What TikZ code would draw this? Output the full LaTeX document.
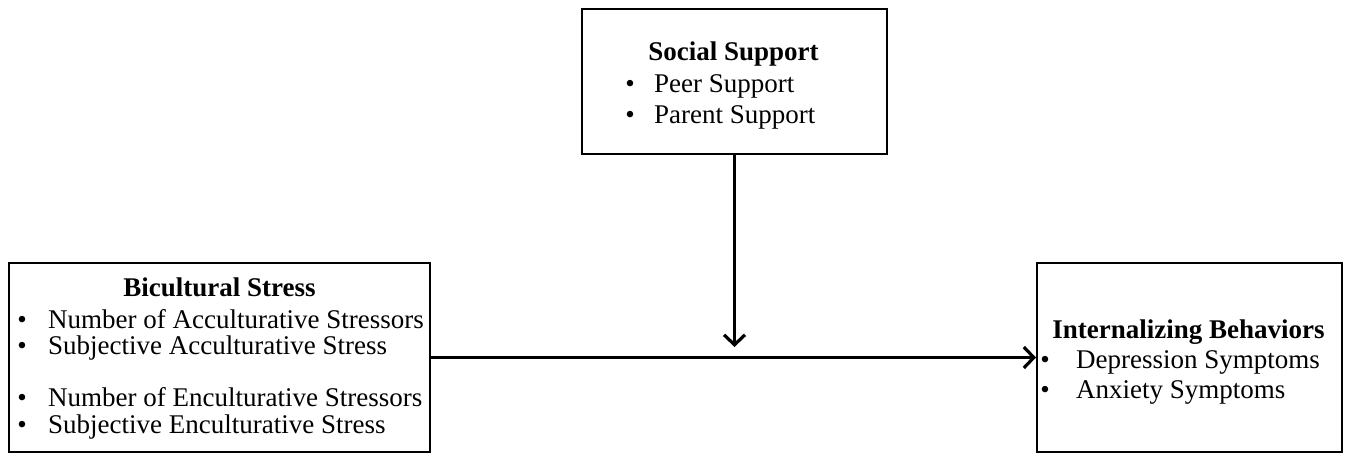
\documentclass[tikz,border=0pt]{standalone}
\usepackage{fontspec}
\setmainfont{Liberation Serif}
\usetikzlibrary{arrows.meta}
\begin{document}
\begin{tikzpicture}[x=1pt,y=-1pt,
  box/.style={draw=black,line width=2pt,rectangle,inner sep=0pt},
  txt/.style={anchor=base west,inner sep=0pt,font=\fontsize{27}{31}\selectfont},
  ttl/.style={anchor=base,inner sep=0pt,font=\fontsize{27}{31}\selectfont\bfseries},
  bul/.style={anchor=base,inner sep=0pt,font=\fontsize{27}{31}\selectfont},
  arr/.style={line width=3.2pt,-{Straight Barb[length=10pt,width=21pt]}}]
\useasboundingbox (0,0) rectangle (1346,454);
% boxes
\node[box,minimum width=421pt,minimum height=189pt] (bic) at (219.5,357.5) {};
\node[box,minimum width=305pt,minimum height=145pt] (ss) at (734.5,81.5) {};
\node[box,minimum width=305pt,minimum height=189pt] (ib) at (1189.5,357.5) {};
% Bicultural Stress text
\node[ttl] (bt) at (219.5,297) {Bicultural Stress};
\node[bul] (b1) at (22,328) {•};
\node[txt] (t1) at (48,328) {Number of Acculturative Stressors};
\node[bul] (b2) at (22,354) {•};
\node[txt] (t2) at (48,354) {Subjective Acculturative Stress};
\node[bul] (b3) at (22,406) {•};
\node[txt] (t3) at (48,406) {Number of Enculturative Stressors};
\node[bul] (b4) at (22,433) {•};
\node[txt] (t4) at (48,433) {Subjective Enculturative Stress};
% Social Support text
\node[ttl] (st) at (733.5,61) {Social Support};
\node[bul] (sb1) at (630,93) {•};
\node[txt] (s1) at (654,93) {Peer Support};
\node[bul] (sb2) at (630,124) {•};
\node[txt] (s2) at (654,124) {Parent Support};
% Internalizing Behaviors text
\node[ttl] (it) at (1188.5,338) {Internalizing Behaviors};
\node[bul] (ib1) at (1045,368) {•};
\node[txt] (i1) at (1076,368) {Depression Symptoms};
\node[bul] (ib2) at (1045,398) {•};
\node[txt] (i2) at (1076,398) {Anxiety Symptoms};
% connectors
\coordinate (mod) at (734.5,347);
\draw[arr] (ss.south) -- (mod);
\draw[arr] (bic.east) -- (ib.west);
\end{tikzpicture}
\end{document}
